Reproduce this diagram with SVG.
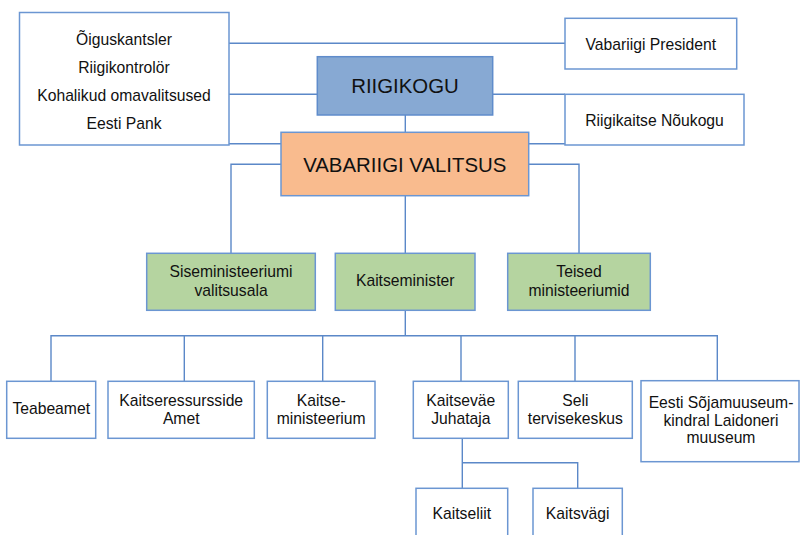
<svg xmlns="http://www.w3.org/2000/svg" width="800" height="535" viewBox="0 0 800 535">
<style>
  .box { fill: #ffffff; stroke: #6b96d2; stroke-width: 1.5; }
  .blue { fill: #87a9d3; stroke: #5f8ccb; stroke-width: 1.5; }
  .orange { fill: #f9bb8e; stroke: #6b96d2; stroke-width: 1.5; }
  .green { fill: #b5d4a0; stroke: #6b96d2; stroke-width: 1.5; }
  .conn { fill: none; stroke: #5b88c8; stroke-width: 1.4; }
  text { font-family: "Liberation Sans", Arial, sans-serif; font-size: 15.7px; fill: #111111; text-anchor: middle; }
  .big { font-size: 20.4px; }
</style>
<rect width="800" height="535" fill="#ffffff"/>
<g id="connectors">
  <path class="conn" d="M229 43.3 H565"/>
  <path class="conn" d="M229 94.3 H317.3"/>
  <path class="conn" d="M229 143.7 H281"/>
  <path class="conn" d="M492.7 94.3 H565"/>
  <path class="conn" d="M528.7 143.7 H565"/>
  <path class="conn" d="M405.3 115 V132.3"/>
  <path class="conn" d="M281 164.3 H231 V253.3"/>
  <path class="conn" d="M528.7 164.3 H579 V253.3"/>
  <path class="conn" d="M405.3 195.7 V253.3"/>
  <path class="conn" d="M405.3 310.3 V335.7"/>
  <path class="conn" d="M51 381.3 V335.7 H717.3 V381.3"/>
  <path class="conn" d="M184.3 335.7 V381.3"/>
  <path class="conn" d="M322.7 335.7 V381.3"/>
  <path class="conn" d="M461 335.7 V381.3"/>
  <path class="conn" d="M575 335.7 V381.3"/>
  <path class="conn" d="M462.3 438.3 V488.3"/>
  <path class="conn" d="M462.3 462.7 H577.7 V488.3"/>
</g>
<g id="left-group">
  <rect class="box" x="19.5" y="12.5" width="209.5" height="132.5"/>
  <text x="124" y="45">Õiguskantsler</text>
  <text x="124" y="73">Riigikontrolör</text>
  <text x="124" y="101">Kohalikud omavalitsused</text>
  <text x="124" y="129">Eesti Pank</text>
</g>
<g id="president">
  <rect class="box" x="565" y="18.3" width="171.7" height="50.7"/>
  <text x="650.8" y="50">Vabariigi President</text>
</g>
<g id="riigikaitse">
  <rect class="box" x="565" y="94.3" width="179" height="50.7"/>
  <text x="654.5" y="126">Riigikaitse Nõukogu</text>
</g>
<g id="riigikogu">
  <rect class="blue" x="317.3" y="56.7" width="175.4" height="58.3"/>
  <text class="big" x="405" y="93">RIIGIKOGU</text>
</g>
<g id="valitsus">
  <rect class="orange" x="281" y="132.3" width="247.7" height="63.4"/>
  <text class="big" x="404.8" y="171.7">VABARIIGI VALITSUS</text>
</g>
<g id="siseministeerium">
  <rect class="green" x="146.7" y="253.3" width="168.6" height="57"/>
  <text x="231" y="277.3">Siseministeeriumi</text>
  <text x="231" y="296">valitsusala</text>
</g>
<g id="kaitseminister">
  <rect class="green" x="335.3" y="253.3" width="139.7" height="57"/>
  <text x="405.2" y="286">Kaitseminister</text>
</g>
<g id="teised">
  <rect class="green" x="507.7" y="253.3" width="142.6" height="57"/>
  <text x="579" y="277.3">Teised</text>
  <text x="579" y="296">ministeeriumid</text>
</g>
<g id="teabeamet">
  <rect class="box" x="6.7" y="381.3" width="89" height="57"/>
  <text x="51.2" y="414">Teabeamet</text>
</g>
<g id="kaitseressursside">
  <rect class="box" x="108" y="381.3" width="146.3" height="57"/>
  <text x="181.2" y="405.7">Kaitseressursside</text>
  <text x="181.2" y="424">Amet</text>
</g>
<g id="kaitseministeerium">
  <rect class="box" x="267.3" y="381.3" width="107.7" height="57"/>
  <text x="321.2" y="405.7">Kaitse-</text>
  <text x="321.2" y="424">ministeerium</text>
</g>
<g id="kaitsevae">
  <rect class="box" x="413.3" y="381.3" width="95" height="57"/>
  <text x="460.8" y="405.7">Kaitseväe</text>
  <text x="460.8" y="424">Juhataja</text>
</g>
<g id="seli">
  <rect class="box" x="518.3" y="381.3" width="114" height="57"/>
  <text x="575.3" y="405.7">Seli</text>
  <text x="575.3" y="424">tervisekeskus</text>
</g>
<g id="sojamuuseum">
  <rect class="box" x="641" y="380.7" width="158" height="81"/>
  <text x="721" y="408.3">Eesti Sõjamuuseum-</text>
  <text x="721" y="425.7">kindral Laidoneri</text>
  <text x="721" y="443.3">muuseum</text>
</g>
<g id="kaitseliit">
  <rect class="box" x="416" y="488.3" width="91.7" height="60"/>
  <text x="461.8" y="519">Kaitseliit</text>
</g>
<g id="kaitsvagi">
  <rect class="box" x="533" y="488.3" width="89.3" height="60"/>
  <text x="577.7" y="519">Kaitsvägi</text>
</g>
</svg>
